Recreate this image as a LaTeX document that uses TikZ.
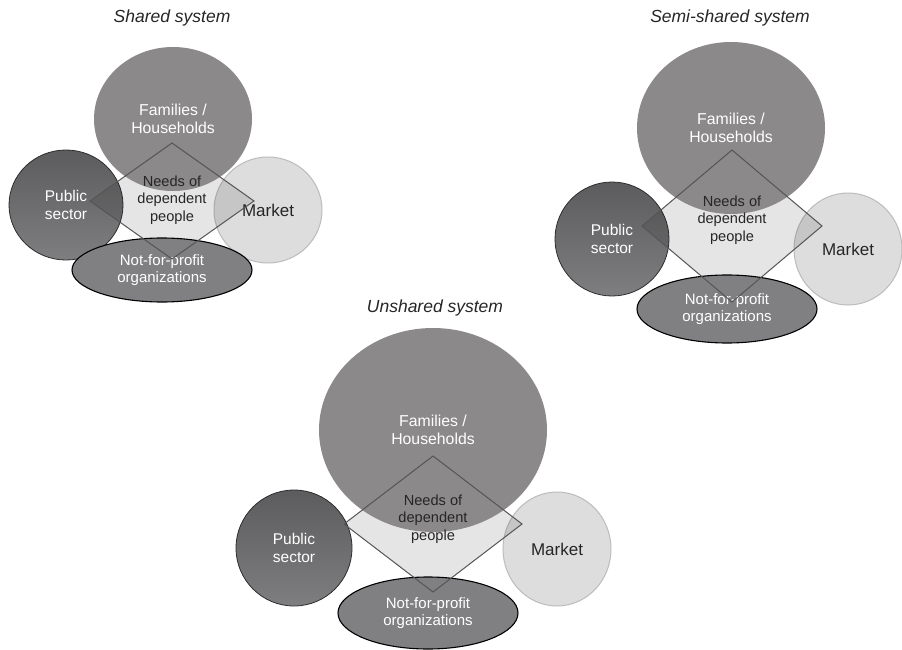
\documentclass[tikz,border=0pt]{standalone}
\usepackage{fontspec}
\setmainfont{Liberation Sans}
\usetikzlibrary{shapes.geometric}
\definecolor{famgray}{RGB}{139,137,138}
\definecolor{pubtop}{RGB}{92,92,94}
\definecolor{pubbot}{RGB}{126,126,128}
\definecolor{publine}{RGB}{45,45,45}
\definecolor{mktgray}{RGB}{221,221,222}
\definecolor{mktline}{RGB}{188,188,188}
\definecolor{npogray}{RGB}{128,128,130}
\definecolor{edgegray}{RGB}{85,85,85}
\begin{document}
\begin{tikzpicture}[x=1pt,y=-1pt,
    every node/.style={inner sep=0pt,outer sep=0pt,align=center},
    ttl/.style={font=\itshape\fontsize{17.5}{20}\selectfont,text=black!85},
    fam/.style={ellipse,fill=famgray,text=white,font=\fontsize{15.8}{17.5}\selectfont},
    pub/.style={ellipse,draw=publine,line width=0.8pt,top color=pubtop,bottom color=pubbot,
      text=white,font=\fontsize{15.5}{17.5}\selectfont},
    mkt/.style={ellipse,draw=mktline,line width=1pt,fill=mktgray,text=black!85,
      font=\fontsize{17}{20}\selectfont},
    npo/.style={ellipse,draw=black,line width=1.1pt,fill=npogray,text=white,
      font=\fontsize{15}{17.5}\selectfont},
    needs/.style={diamond,fill=black,fill opacity=0.1},
    needtxt/.style={text=black!85,font=\fontsize{14.6}{17.5}\selectfont},
    edge/.style={draw=edgegray,line width=1pt,line join=miter}]
  \useasboundingbox (0,0) rectangle (902,650);

  \node[ttl] (t1) at (172,18) {Shared system};
  \node[pub,minimum width=114pt,minimum height=110pt] (pub1) at (66,205) {Public\\sector};
  \node[mkt,minimum width=108pt,minimum height=106pt] (mkt1) at (268,210) {Market};
  \node[needs,minimum width=164pt,minimum height=116pt] (d1) at (172,201) {};
  \node[fam,minimum width=158pt,minimum height=144pt] (fam1) at (173,119) {Families /\\Households};
  \node[npo,minimum width=180pt,minimum height=64pt] (npo1) at (162,270) {Not-for-profit\\organizations};
  \draw[edge] (d1.north) -- (d1.east) -- (d1.south) -- (d1.west) -- cycle;
  \node[needtxt] (n1) at (172,200) {Needs of\\dependent\\people};

  \node[ttl] (t2) at (730,18) {Semi-shared system};
  \node[pub,minimum width=114pt,minimum height=114pt] (pub2) at (612,239) {Public\\sector};
  \node[mkt,minimum width=108pt,minimum height=112pt] (mkt2) at (848,249) {Market};
  \node[needs,minimum width=180pt,minimum height=152pt] (d2) at (732,226) {};
  \node[fam,minimum width=188pt,minimum height=172pt] (fam2) at (731,128) {Families /\\Households};
  \node[npo,minimum width=180pt,minimum height=68pt] (npo2) at (727,309) {Not-for-profit\\organizations};
  \draw[edge] (d2.north) -- (d2.east) -- (d2.south) -- (d2.west) -- cycle;
  \node[needtxt] (n2) at (732,220) {Needs of\\dependent\\people};

  \node[ttl] (t3) at (435,308) {Unshared system};
  \node[pub,minimum width=116pt,minimum height=116pt] (pub3) at (294,548) {Public\\sector};
  \node[mkt,minimum width=108pt,minimum height=114pt] (mkt3) at (557,549) {Market};
  \node[needs,minimum width=178pt,minimum height=136pt] (d3) at (433,524) {};
  \node[fam,minimum width=228pt,minimum height=204pt] (fam3) at (433,430) {Families /\\Households};
  \node[npo,minimum width=180pt,minimum height=72pt] (npo3) at (428,613) {Not-for-profit\\organizations};
  \draw[edge] (d3.north) -- (d3.east) -- (d3.south) -- (d3.west) -- cycle;
  \node[needtxt] (n3) at (433,519) {Needs of\\dependent\\people};
\end{tikzpicture}
\end{document}
